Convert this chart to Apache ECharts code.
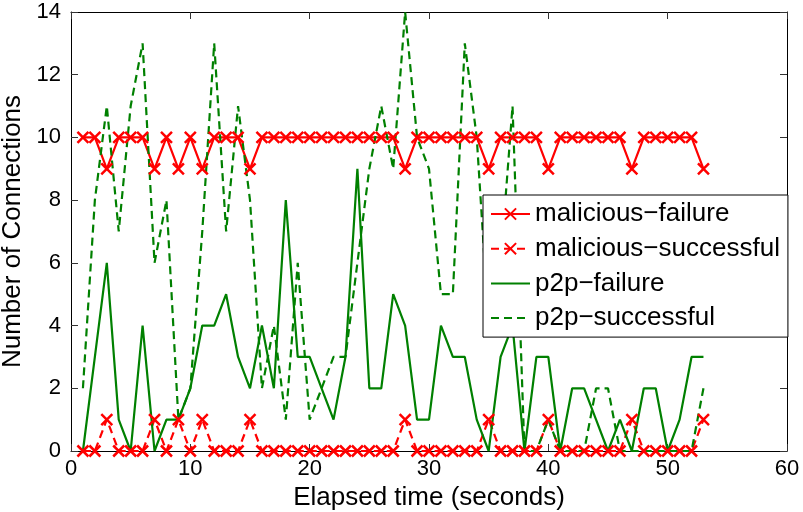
<!DOCTYPE html>
<html>
<head>
<meta charset="utf-8">
<script src="https://cdn.jsdelivr.net/npm/echarts@6/dist/echarts.min.js"></script>
<style>
html, body { margin: 0; padding: 0; background: #fff; }
#chart { width: 803px; height: 512px; }
</style>
</head>
<body>
<div id="chart"></div>
<script>
// elapsed seconds (x) and the four connection counts
var seconds = [1, 2, 3, 4, 5, 6, 7, 8, 9, 10, 11, 12, 13, 14, 15, 16, 17, 18, 19, 20,
	21, 22, 23, 24, 25, 26, 27, 28, 29, 30, 31, 32, 33, 34, 35, 36, 37, 38, 39, 40,
	41, 42, 43, 44, 45, 46, 47, 48, 49, 50, 51, 52, 53];
var maliciousFailure = [10, 10, 9, 10, 10, 10, 9, 10, 9, 10, 9, 10, 10, 10, 9,
	10, 10, 10, 10, 10, 10, 10, 10, 10, 10, 10, 10, 9, 10, 10, 10, 10, 10, 10, 9,
	10, 10, 10, 10, 9, 10, 10, 10, 10, 10, 10, 9, 10, 10, 10, 10, 10, 9];
var maliciousSuccess = [0, 0, 1, 0, 0, 0, 1, 0, 1, 0, 1, 0, 0, 0, 1,
	0, 0, 0, 0, 0, 0, 0, 0, 0, 0, 0, 0, 1, 0, 0, 0, 0, 0, 0, 1,
	0, 0, 0, 0, 1, 0, 0, 0, 0, 0, 0, 1, 0, 0, 0, 0, 0, 1];
var p2pFailure = [0, 3, 6, 1, 0, 4, 0, 1, 1, 2, 4, 4, 5, 3, 2, 4, 2, 8, 3, 3,
	2, 1, 3, 9, 2, 2, 5, 4, 1, 1, 4, 3, 3, 1, 0, 3, 4, 0, 3, 3,
	0, 2, 2, 1, 0, 1, 0, 2, 2, 0, 1, 3, 3];
var p2pSuccess = [2, 8, 11, 7, 11, 13, 6, 8, 1, 2, 7, 13, 7, 11, 8, 2, 4, 1, 6, 1,
	2, 3, 3, 6, 9, 11, 9, 14, 10, 9, 5, 5, 13, 10, 4, 6, 11, 0, 0, 1,
	0, 0, 0, 2, 2, 0, 0, 0, 0, 0, 0, 0, 2];
var names = ['malicious\u2212failure', 'malicious\u2212successful', 'p2p\u2212failure', 'p2p\u2212successful'];

var font = '"Liberation Sans", Arial, Helvetica, sans-serif';
var cross = 'path://M0,0L10,10M10,0L0,10';
var red = '#ff0000', green = '#008000';

function pairs(vals) {
	return seconds.map(function (s, i) { return [s, vals[i]]; });
}

var myChart = echarts.init(document.getElementById('chart'));
var frame = { lineStyle: { color: '#000', width: 1 } };
var tick = { inside: true, length: 7, lineStyle: { color: '#333' } };

var option = {
	animation: false,
	backgroundColor: '#fff',
	textStyle: { fontFamily: font },
	grid: { left: 71, right: 16, top: 12, bottom: 61, outerBoundsMode: 'none', containLabel: false },
	legend: {
		orient: 'vertical',
		left: 483,
		top: 195,
		backgroundColor: '#fff',
		borderColor: '#000',
		borderWidth: 1,
		borderRadius: 0,
		padding: [5, 8, 5, 7],
		itemGap: 6.7,
		itemWidth: 39,
		itemHeight: 14,
		selectedMode: false,
		textStyle: { fontSize: 26, color: '#000', lineHeight: 28, fontFamily: font },
		data: [
			{ name: names[0] },
			{ name: names[1] },
			{ name: names[2], itemStyle: { opacity: 0 } },
			{ name: names[3], itemStyle: { opacity: 0 } }
		]
	},
	xAxis: [{
		type: 'value', min: 0, max: 60, interval: 10,
		name: 'Elapsed time (seconds)', nameLocation: 'middle', nameGap: 30,
		nameTextStyle: { fontSize: 26, color: '#000', fontFamily: font },
		axisLine: frame, axisTick: tick,
		axisLabel: { fontSize: 22, color: '#000', margin: 7, fontFamily: font },
		splitLine: { show: false }
	}, {
		type: 'value', min: 0, max: 60, interval: 10, position: 'top',
		axisLine: { show: true, onZero: false, lineStyle: frame.lineStyle }, axisTick: tick,
		axisLabel: { show: false }, splitLine: { show: false }
	}],
	yAxis: [{
		type: 'value', min: 0, max: 14, interval: 2,
		name: 'Number of Connections', nameLocation: 'middle', nameGap: 37,
		nameTextStyle: { fontSize: 26, color: '#000', fontFamily: font },
		axisLine: { show: true, lineStyle: frame.lineStyle }, axisTick: tick,
		axisLabel: { fontSize: 22, color: '#000', margin: 10, fontFamily: font },
		splitLine: { show: false }
	}, {
		type: 'value', min: 0, max: 14, interval: 2, position: 'right',
		axisLine: { show: true, onZero: false, lineStyle: frame.lineStyle }, axisTick: tick,
		axisLabel: { show: false }, splitLine: { show: false }
	}],
	series: [{
		name: names[0], type: 'line', data: pairs(maliciousFailure),
		symbol: cross, symbolSize: 11, color: red,
		lineStyle: { color: red, width: 2.2 },
		itemStyle: { color: red, borderColor: red, borderWidth: 2.5 },
		emphasis: { disabled: true }
	}, {
		name: names[1], type: 'line', data: pairs(maliciousSuccess),
		symbol: cross, symbolSize: 11, color: red,
		lineStyle: { color: red, width: 2.2, type: [8, 5] },
		itemStyle: { color: red, borderColor: red, borderWidth: 2.5 },
		emphasis: { disabled: true }
	}, {
		name: names[2], type: 'line', data: pairs(p2pFailure),
		symbol: 'none', color: green,
		lineStyle: { color: green, width: 2.2 },
		emphasis: { disabled: true }
	}, {
		name: names[3], type: 'line', data: pairs(p2pSuccess),
		symbol: 'none', color: green,
		lineStyle: { color: green, width: 2.2, type: [8, 5] },
		emphasis: { disabled: true }
	}]
};
option && myChart.setOption(option);
</script>
</body>
</html>
